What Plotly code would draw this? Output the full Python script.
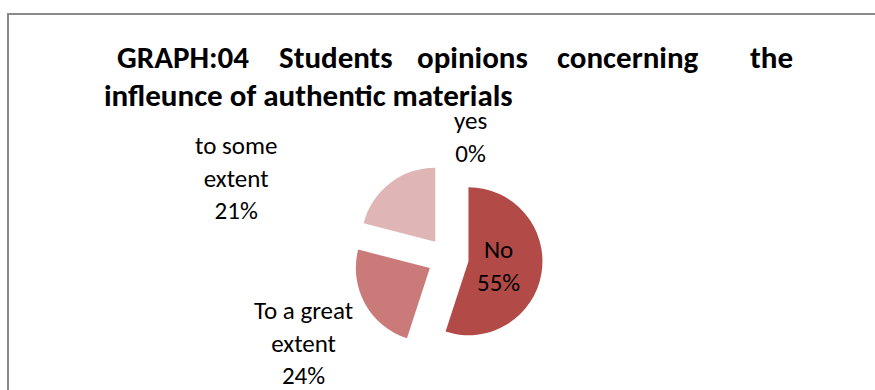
import plotly.graph_objects as go

# ---- data ----
categories = ["yes", "No", "To a great extent", "to some extent"]
values = [0, 55, 24, 21]
label_lines = ["yes", "No", "To a great<br>extent", "to some<br>extent"]
colors = ["#C0504D", "#B24B48", "#CA7B79", "#DFB6B5"]

title_line1_words = ["GRAPH:04", "Students", "opinions", "concerning", "the"]
title_line2 = "infleunce of authentic materials"

# ---- layout helpers (pixel positions) ----
W, H = 875, 390
def px(x):
    return x / W
def py(y):
    return 1 - y / H

FONT = "Carlito, Calibri, Lato, sans-serif"

total = sum(values)
pct = [f"{round(v / total * 100)}%" for v in values]

pull = 0.28
r = 74
side = r * (2 + 2 * pull)
cx, cy = 448, 258

fig = go.Figure()
fig.add_trace(go.Pie(
    labels=categories,
    values=values,
    sort=False,
    direction="clockwise",
    rotation=0,
    pull=[pull] * len(values),
    marker=dict(colors=colors, line=dict(width=0)),
    textinfo="none",
    hoverinfo="label+percent",
    showlegend=False,
    domain=dict(x=[px(cx - side / 2), px(cx + side / 2)],
                y=[py(cy + side / 2), py(cy - side / 2)]),
))

annotations = []
# title line 1 (justified words)
word_x = [115, 277, 415, 555, 748]
for w, x in zip(title_line1_words, word_x):
    annotations.append(dict(text=f"<b>{w}</b>", x=px(x), y=py(57), xref="paper", yref="paper",
                            xanchor="left", yanchor="middle", showarrow=False,
                            font=dict(family=FONT, size=31, color="#000000")))
annotations.append(dict(text=f"<b>{title_line2}</b>", x=px(102), y=py(95), xref="paper", yref="paper",
                        xanchor="left", yanchor="middle", showarrow=False,
                        font=dict(family=FONT, size=31, color="#000000")))

# data labels
label_pos = [(470, 137), (498, 266), (303, 343), (236, 178)]
for lab, p, (x, y) in zip(label_lines, pct, label_pos):
    annotations.append(dict(text=f"{lab}<br>{p}", x=px(x), y=py(y), xref="paper", yref="paper",
                            xanchor="center", yanchor="middle", align="center", showarrow=False,
                            font=dict(family=FONT, size=25, color="#000000")))

fig.update_layout(
    width=W, height=H,
    margin=dict(l=0, r=0, t=0, b=0),
    paper_bgcolor="white",
    plot_bgcolor="white",
    annotations=annotations,
    shapes=[dict(type="rect", xref="paper", yref="paper",
                 x0=px(8), x1=1.05, y0=-0.05, y1=py(14),
                 line=dict(color="#8A8A8A", width=2), fillcolor="rgba(0,0,0,0)")],
)

fig.write_html("out.html")
